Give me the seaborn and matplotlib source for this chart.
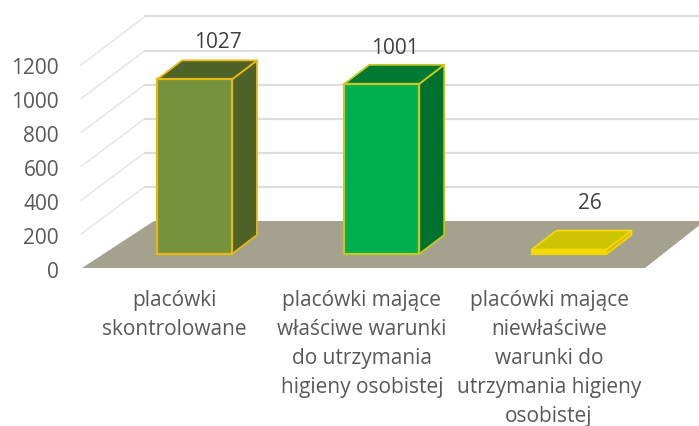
import matplotlib
matplotlib.use("Agg")
import matplotlib.pyplot as plt
from matplotlib.patches import Polygon
from matplotlib.transforms import ScaledTranslation
import seaborn as sns
import pandas as pd

categories = ["placówki\nskontrolowane",
              "placówki mające\nwłaściwe warunki\ndo utrzymania\nhigieny osobistej",
              "placówki mające\nniewłaściwe\nwarunki do\nutrzymania higieny\nosobistej"]
values = [1027, 1001, 26]
front_colors = ["#76923C", "#00B050", "#F5DC00"]
side_colors = ["#4F6228", "#00702E", "#D8B800"]
top_colors = ["#4F6228", "#007A33", "#CCC400"]
edge_colors = ["#E6B810", "#C8C81E", "#F5D800"]
y_ticks = [0, 200, 400, 600, 800, 1000, 1200]

W, H = 699, 426
sns.set_style("white")
plt.rcParams["font.family"] = ["Open Sans", "DejaVu Sans"]

fig = plt.figure(figsize=(W / 100, H / 100), dpi=100)
ax = fig.add_axes([66 / W, (H - 268) / H, (W - 66) / W, 268 / H])

PX_X, PX_Y = 187.25, 0.17
def X(px): return (px - 194.5) / PX_X
def Y(py): return (254 - py) / PX_Y

df = pd.DataFrame({"category": categories, "value": values})
sns.barplot(data=df, x="category", y="value", hue="category", palette=front_colors,
            saturation=1, width=0.4, legend=False, ax=ax, zorder=4)
for p, e in zip(ax.patches, edge_colors):
    p.set_edgecolor(e)
    p.set_linewidth(1.6)

ax.set_xlim(X(66), X(W))
ax.set_ylim(Y(268), Y(0))
ax.set_xlabel("")
ax.set_ylabel("")
for s in ax.spines.values():
    s.set_visible(False)

# floor and perspective gridlines
ax.add_patch(Polygon([(X(82), Y(268)), (X(154), Y(221)), (X(W + 2), Y(221)), (X(W + 2), Y(224)), (X(645), Y(268))],
                     closed=True, fc="#A5A18F", ec="none", zorder=2, clip_on=False))
FRONT = 169.2 / 1000
for v in y_ticks[1:]:
    back = 220.5 - v * 0.17
    front = 268 - v * FRONT
    ax.plot([X(81), X(145)], [Y(front), Y(back)], color="#E6E6E6", lw=1.1, zorder=1, clip_on=False)
    ax.plot([X(145), X(W)], [Y(back), Y(back)], color="#DEDEDE", lw=1.6, zorder=1)

# 3D depth of the bars
dx, dy = 25 / PX_X, 19 / PX_Y
hw = 0.2
for i, v in enumerate(values):
    e = edge_colors[i]
    ax.add_patch(Polygon([(i + hw, 0), (i + hw + dx, dy), (i + hw + dx, v + dy), (i + hw, v)],
                         fc=side_colors[i], ec=e, lw=1.3, zorder=3.5, joinstyle="round"))
    ax.add_patch(Polygon([(i - hw, v), (i - hw + dx, v + dy), (i + hw + dx, v + dy), (i + hw, v)],
                         fc=top_colors[i], ec=e, lw=1.3, zorder=3.5, joinstyle="round"))

# value labels
label_offsets = [(23, 37), (13, 35), (21, 46)]
for i, v in enumerate(values):
    ax.annotate(str(v), xy=(i, v), xytext=(label_offsets[i][0] * 0.72, label_offsets[i][1] * 0.72),
                textcoords="offset points", ha="center", va="center",
                fontsize=15, color="#404040", zorder=6)

# value axis on the front plane
sec = ax.secondary_yaxis("left", functions=(
    lambda d: (d - Y(268)) * PX_Y / FRONT,
    lambda f: f * FRONT / PX_Y + Y(268)))
sec.set_yticks(y_ticks)
sec.tick_params(axis="y", length=0, pad=5, labelsize=15, labelcolor="#595959")
sec.spines["left"].set_visible(False)
down = ScaledTranslation(0, -1.5 / 100, fig.dpi_scale_trans)
for t in sec.get_yticklabels():
    t.set_transform(t.get_transform() + down)

ax.set_yticks([])
ax.tick_params(axis="x", length=0, pad=16, labelsize=15, labelcolor="#595959")
shift = ScaledTranslation(-20 / 100, 0, fig.dpi_scale_trans)
for t in ax.get_xticklabels():
    t.set_linespacing(1.5)
    t.set_va("top")
    t.set_transform(t.get_transform() + shift)

fig.savefig("out.png", dpi=100)
